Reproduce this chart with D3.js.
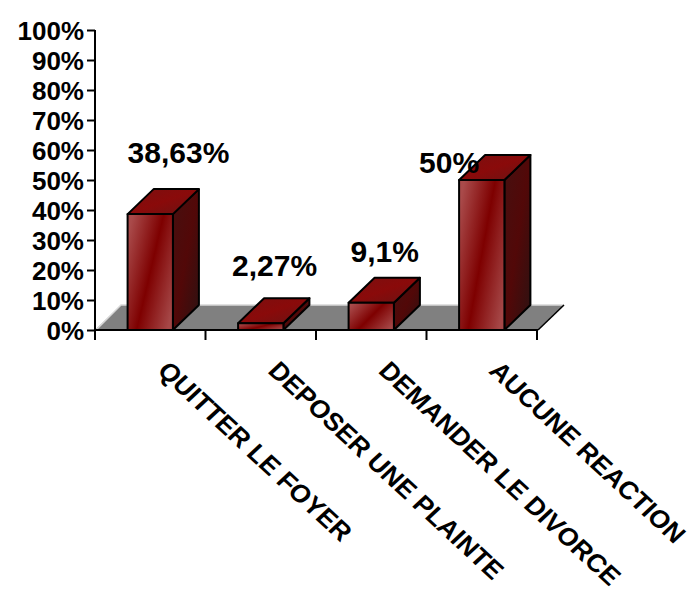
<!DOCTYPE html>
<html>
<head>
<meta charset="utf-8">
<script src="https://cdn.jsdelivr.net/npm/d3@7"></script>
<style>
  html, body { margin: 0; padding: 0; background: #ffffff; }
  svg { display: block; }
  text { font-family: "Liberation Sans", Arial, sans-serif; font-weight: bold; fill: #000; }
</style>
</head>
<body>
<script>
// ---- data ----
const categories = ["QUITTER LE FOYER", "DEPOSER UNE PLAINTE", "DEMANDER LE DIVORCE", "AUCUNE REACTION"];
const values = [38.63, 2.27, 9.1, 50];
const yTickValues = [0, 10, 20, 30, 40, 50, 60, 70, 80, 90, 100];

// ---- layout (not data) ----
const W = 695, H = 592;
const plot = { left: 95, right: 537, top: 30, bottom: 330 };
const depth = { dx: 26, dy: -25 };
// value-label nudges relative to bar front-top-left corner
const labelNudges = [[0, -51], [-6, -47], [2, -41], [-40, -7]];

const svg = d3.select("body").append("svg").attr("width", W).attr("height", H);

const defs = svg.append("defs");
function grad(id, x1, y1, x2, y2, stops) {
  const g = defs.append("linearGradient").attr("id", id)
    .attr("x1", x1).attr("y1", y1).attr("x2", x2).attr("y2", y2);
  stops.forEach(([o, c]) => g.append("stop").attr("offset", o).attr("stop-color", c));
}
grad("gFront", 0, 0.2, 1, 0.8, [[0, "#a94a4a"], [0.5, "#7e0000"], [1, "#a54747"]]);
grad("gSide", 0, 0, 1, 1, [[0, "#461010"], [0.5, "#520808"], [1, "#2c1212"]]);
grad("gTop", 0, 0, 1, 1, [[0, "#7a1010"], [0.5, "#8a0a0a"], [1, "#6a1414"]]);

const x = d3.scaleBand().domain(categories).range([plot.left, plot.right])
  .paddingInner(0.59).paddingOuter(0.295);
const y = d3.scaleLinear().domain([0, 100]).range([plot.bottom, plot.top]);

// floor
const y0 = y(0);
svg.append("polygon")
  .attr("points", [
    [plot.left, y0], [plot.right + 1, y0],
    [plot.right + 1 + depth.dx, y0 + depth.dy], [plot.left + depth.dx, y0 + depth.dy]
  ].map(p => p.join(",")).join(" "))
  .attr("fill", "#808080");
svg.append("polyline")
  .attr("points", [[plot.left + 1, y0], [plot.left + depth.dx, y0 + depth.dy],
    [plot.right + 1 + depth.dx, y0 + depth.dy]].map(p => p.join(",")).join(" "))
  .attr("fill", "none").attr("stroke", "#d8d8d8").attr("stroke-width", 1.5);
svg.append("line")
  .attr("x1", plot.right + 1).attr("y1", y0)
  .attr("x2", plot.right + 1 + depth.dx).attr("y2", y0 + depth.dy)
  .attr("stroke", "#000").attr("stroke-width", 1.5);

// bars
const bars = svg.append("g");
categories.forEach((c, i) => {
  const xl = x(c), xr = x(c) + x.bandwidth();
  const yt = y(values[i]), yb = y(0);
  const g = bars.append("g").attr("stroke", "#000").attr("stroke-width", 2).attr("stroke-linejoin", "round");
  // side face
  g.append("polygon").attr("fill", "url(#gSide)")
    .attr("points", [[xr, yb], [xr, yt], [xr + depth.dx, yt + depth.dy], [xr + depth.dx, yb + depth.dy]]
      .map(p => p.join(",")).join(" "));
  // top face
  g.append("polygon").attr("fill", "url(#gTop)")
    .attr("points", [[xl, yt], [xr, yt], [xr + depth.dx, yt + depth.dy], [xl + depth.dx, yt + depth.dy]]
      .map(p => p.join(",")).join(" "));
  // front face
  g.append("rect").attr("fill", "url(#gFront)")
    .attr("x", xl).attr("y", yt).attr("width", xr - xl).attr("height", yb - yt);
});

// axes
const yAxis = svg.append("g").attr("transform", `translate(${plot.left},0)`)
  .call(d3.axisLeft(y).tickValues(yTickValues).tickSize(8).tickPadding(3).tickFormat(d => d + "%"));
yAxis.select(".domain").attr("stroke", "#000").attr("stroke-width", 2).attr("d", `M0,${plot.top}V${plot.bottom + 10}`);
yAxis.selectAll(".tick line").attr("stroke", "#000").attr("stroke-width", 2);
yAxis.selectAll(".tick text").attr("font-size", 26).attr("font-family", "Liberation Sans, Arial, sans-serif")
  .attr("font-weight", "bold").attr("fill", "#000").attr("dy", "0.36em");

const boundaries = d3.range(categories.length + 1).map(i => plot.left + i * x.step());
const xAxis = svg.append("g");
xAxis.append("line").attr("x1", plot.left).attr("x2", plot.right + 1).attr("y1", y0).attr("y2", y0)
  .attr("stroke", "#000").attr("stroke-width", 2);
xAxis.selectAll("line.tk").data(boundaries).join("line").attr("class", "tk")
  .attr("x1", d => d).attr("x2", d => d).attr("y1", y0).attr("y2", y0 + 10)
  .attr("stroke", "#000").attr("stroke-width", 2);

// category labels (rotated, slightly stretched like the reference)
svg.append("g").selectAll("text").data(categories).join("text")
  .attr("transform", d => `translate(${x(d) + x.bandwidth() / 2 + 6},${y0 + 42}) scale(1.08,1) rotate(45)`)
  .attr("font-size", 25)
  .text(d => d);

// value labels
const fmt = v => String(v).replace(".", ",") + "%";
svg.append("g").selectAll("text").data(values).join("text")
  .attr("x", (d, i) => x(categories[i]) + labelNudges[i][0])
  .attr("y", (d, i) => y(d) + labelNudges[i][1])
  .attr("font-size", 30)
  .text(d => fmt(d));
</script>
</body>
</html>
